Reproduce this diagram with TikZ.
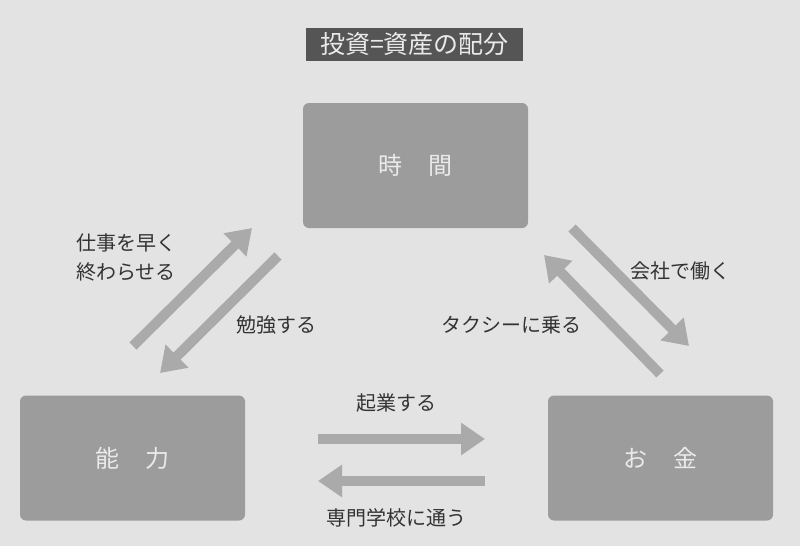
\documentclass[tikz,border=0pt]{standalone}
\usepackage{fontspec}
\setmainfont{Noto Sans CJK JP}
\usetikzlibrary{arrows.meta}
\definecolor{bg}{HTML}{E3E3E3}
\definecolor{boxc}{HTML}{9C9C9C}
\definecolor{titlec}{HTML}{555555}
\definecolor{arr}{HTML}{AAAAAA}
\definecolor{txt}{HTML}{333333}
\definecolor{boxtxt}{HTML}{EAEAEA}
\tikzset{
  mainbox/.style={fill=boxc, rounded corners=6pt, minimum width=225pt, minimum height=125pt, text=boxtxt, font=\fontsize{24}{28}\selectfont, inner sep=0pt},
  flow/.style={draw=arr, line width=10pt, -{Triangle[length=24pt,width=31pt]}},
  lbl/.style={text=txt, font=\fontsize{20}{29}\selectfont, inner sep=0pt}
}
\begin{document}
\begin{tikzpicture}[x=1pt,y=-1pt]
\fill[bg] (0,0) rectangle (800,546);
\useasboundingbox (0,0) rectangle (800,546);
\node[fill=titlec, text=boxtxt, minimum width=217pt, minimum height=33pt, inner sep=0pt, font=\fontsize{25}{28}\selectfont] (title) at (414.5,44.5) {投資=資産の配分};
\node[mainbox] (time) at (415.5,165.5) {時\hspace{26pt}間};
\node[mainbox] (skill) at (132.5,458) {能\hspace{26pt}力};
\node[mainbox] (money) at (660.5,458) {お\hspace{26pt}金};
\coordinate (a1s) at (133,346); \coordinate (a1e) at (252,228);
\coordinate (a2s) at (278,256); \coordinate (a2e) at (160,373);
\coordinate (a3s) at (318,439); \coordinate (a3e) at (485,439);
\coordinate (a4s) at (485,481); \coordinate (a4e) at (318,481);
\coordinate (a5s) at (572,228); \coordinate (a5e) at (689,346);
\coordinate (a6s) at (660,374); \coordinate (a6e) at (544,255);
\draw[flow] (a1s) -- (a1e);
\draw[flow] (a2s) -- (a2e);
\draw[flow] (a3s) -- (a3e);
\draw[flow] (a4s) -- (a4e);
\draw[flow] (a5s) -- (a5e);
\draw[flow] (a6s) -- (a6e);
\node[lbl, anchor=west, align=left] (l1) at (76,257.5) {仕事を早く\\終わらせる};
\node[lbl] (l2) at (276,325) {勉強する};
\node[lbl] (l3) at (396,403) {起業する};
\node[lbl] (l4) at (396,518) {専門学校に通う};
\node[lbl] (l5) at (680,271) {会社で働く};
\node[lbl] (l6) at (511,325) {タクシーに乗る};
\end{tikzpicture}
\end{document}
